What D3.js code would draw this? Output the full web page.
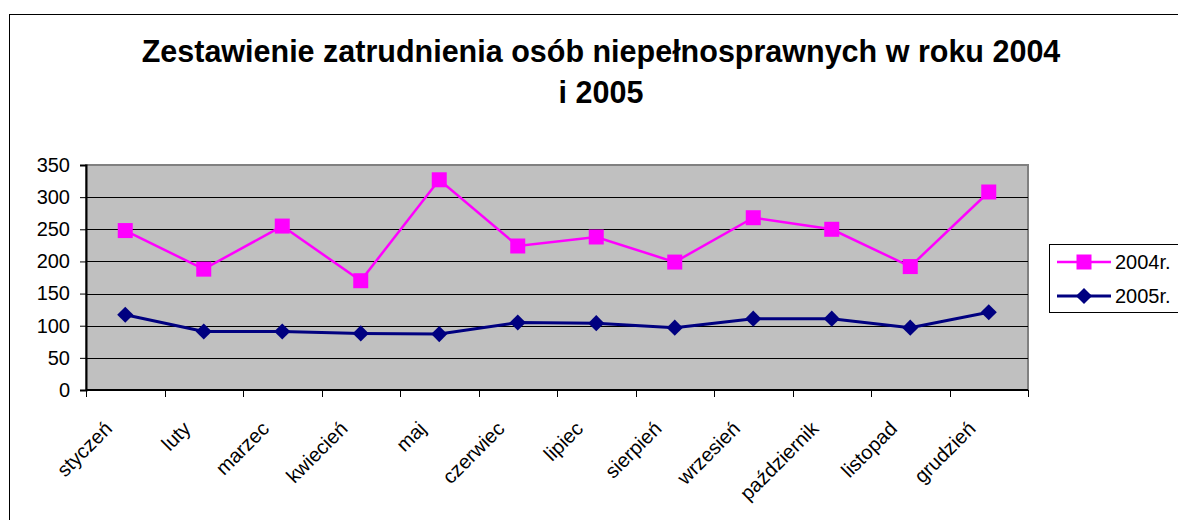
<!DOCTYPE html>
<html>
<head>
<meta charset="utf-8">
<script src="https://cdn.jsdelivr.net/npm/d3@7"></script>
<style>
  body { margin: 0; background: #fff; }
  svg text { font-family: "Liberation Sans", Arial, sans-serif; }
</style>
</head>
<body>
<div id="chart"></div>
<script>
const months = ['styczeń','luty','marzec','kwiecień','maj','czerwiec','lipiec','sierpień','wrzesień','październik','listopad','grudzień'];
const v2004 = [248, 188, 255, 170, 327, 224, 238, 199, 268, 250, 192, 308];
const v2005 = [117, 91, 91, 88, 87, 105, 104, 97, 111, 111, 97, 121];
const yTicks = [0, 50, 100, 150, 200, 250, 300, 350];
const seriesNames = ['2004r.', '2005r.'];

const Chart = function(){
  const W = 1178, H = 520,
        L = 86, R = 1028, T = 165, B = 390,
        FS = '20px';

  const plot = () => {
    const svg = d3.select('#chart')
      .append('svg')
      .attr('width', W)
      .attr('height', H);

    // outer chart frame
    svg.append('rect')
       .attr('x', 9.5).attr('y', 14.5)
       .attr('width', 1200).attr('height', 600)
       .attr('fill', '#fff').attr('stroke', '#000').attr('stroke-width', 1);

    const title = svg.append('text')
       .attr('x', 601).attr('text-anchor', 'middle')
       .style('font-size', '30.5px').style('font-weight', 'bold');
    title.append('tspan').attr('x', 601).attr('y', 62)
       .text('Zestawienie zatrudnienia osób niepełnosprawnych w roku 2004');
    title.append('tspan').attr('x', 601).attr('y', 103).text('i 2005');

    const x = d3.scaleBand().domain(months).range([L, R]);
    const y = d3.scaleLinear().domain([0, 350]).range([B, T]);

    // plot area
    svg.append('rect')
       .attr('x', L).attr('y', T)
       .attr('width', R - L).attr('height', B - T)
       .attr('fill', '#c0c0c0').attr('stroke', '#808080').attr('stroke-width', 2);

    // grid
    svg.append('g')
       .selectAll('line')
       .data(yTicks.filter(d => d > 0 && d < 350))
       .enter().append('line')
       .attr('x1', L).attr('x2', R)
       .attr('y1', d => Math.round(y(d)) + 0.5).attr('y2', d => Math.round(y(d)) + 0.5)
       .attr('stroke', '#000').attr('stroke-width', 1);

    const yAxis = d3.axisLeft(y).tickValues(yTicks).tickSize(6).tickPadding(10);
    const gy = svg.append('g').attr('transform', `translate(${L},0)`).call(yAxis);
    gy.select('.domain').attr('stroke', '#000').attr('stroke-width', 2);
    gy.selectAll('text').style('font-size', FS).attr('fill', '#000')
      .attr('font-family', '"Liberation Sans", Arial, sans-serif');

    // x axis: ticks at category boundaries
    const gx = svg.append('g').attr('transform', `translate(0,${B})`);
    gx.append('line').attr('x1', L).attr('x2', R).attr('stroke', '#000').attr('stroke-width', 2);
    const bounds = months.map(m => x(m)).concat([R]);
    gx.selectAll('line.tk')
      .data(bounds).enter().append('line')
      .attr('class', 'tk')
      .attr('x1', d => Math.round(d) + 0.5).attr('x2', d => Math.round(d) + 0.5)
      .attr('y1', 0).attr('y2', 7)
      .attr('stroke', '#000');
    gx.selectAll('text')
      .data(months).enter().append('text')
      .attr('transform', d => `translate(${x(d) + x.bandwidth() / 2 - 12},${40}) rotate(-45)`)
      .attr('text-anchor', 'end')
      .style('font-size', FS)
      .text(d => d);

    const cx = d => x(d) + x.bandwidth() / 2;
    const line = vals => d3.line().x((d, i) => cx(months[i])).y(d => y(d))(vals);

    svg.append('path').attr('d', line(v2004))
       .attr('fill', 'none').attr('stroke', '#ff00ff').attr('stroke-width', 2.5);
    svg.append('path').attr('d', line(v2005))
       .attr('fill', 'none').attr('stroke', '#000080').attr('stroke-width', 3);

    svg.append('g').selectAll('rect')
       .data(v2004).enter().append('rect')
       .attr('x', (d, i) => cx(months[i]) - 7.5).attr('y', d => y(d) - 7.5)
       .attr('width', 15).attr('height', 15)
       .attr('fill', '#ff00ff');

    // diamond: a square turned by 45 degrees
    const diamond = d3.symbol().type(d3.symbolSquare).size(130);
    svg.append('g').selectAll('path')
       .data(v2005).enter().append('path')
       .attr('d', diamond)
       .attr('transform', (d, i) => `translate(${cx(months[i])},${y(d)}) rotate(45)`)
       .attr('fill', '#000080');

    // legend
    const lg = svg.append('g');
    lg.append('rect')
      .attr('x', 1049.5).attr('y', 244.5).attr('width', 140).attr('height', 68)
      .attr('fill', '#fff').attr('stroke', '#000');
    const rows = [
      { name: seriesNames[0], color: '#ff00ff', ty: 262 },
      { name: seriesNames[1], color: '#000080', ty: 296 }
    ];
    rows.forEach((r, i) => {
      lg.append('line').attr('x1', 1057).attr('x2', 1111)
        .attr('y1', r.ty).attr('y2', r.ty)
        .attr('stroke', r.color).attr('stroke-width', i ? 3 : 2.5);
      if (i === 0) {
        lg.append('rect').attr('x', 1084 - 7.5).attr('y', r.ty - 7.5)
          .attr('width', 15).attr('height', 15).attr('fill', r.color);
      } else {
        lg.append('path').attr('d', diamond)
          .attr('transform', `translate(1084,${r.ty}) rotate(45)`)
          .attr('fill', r.color);
      }
      lg.append('text').attr('x', 1115).attr('y', r.ty + 7)
        .style('font-size', FS).text(r.name);
    });
  };

  return { load: plot };
}();
document.addEventListener('DOMContentLoaded', Chart.load);
</script>
</body>
</html>
